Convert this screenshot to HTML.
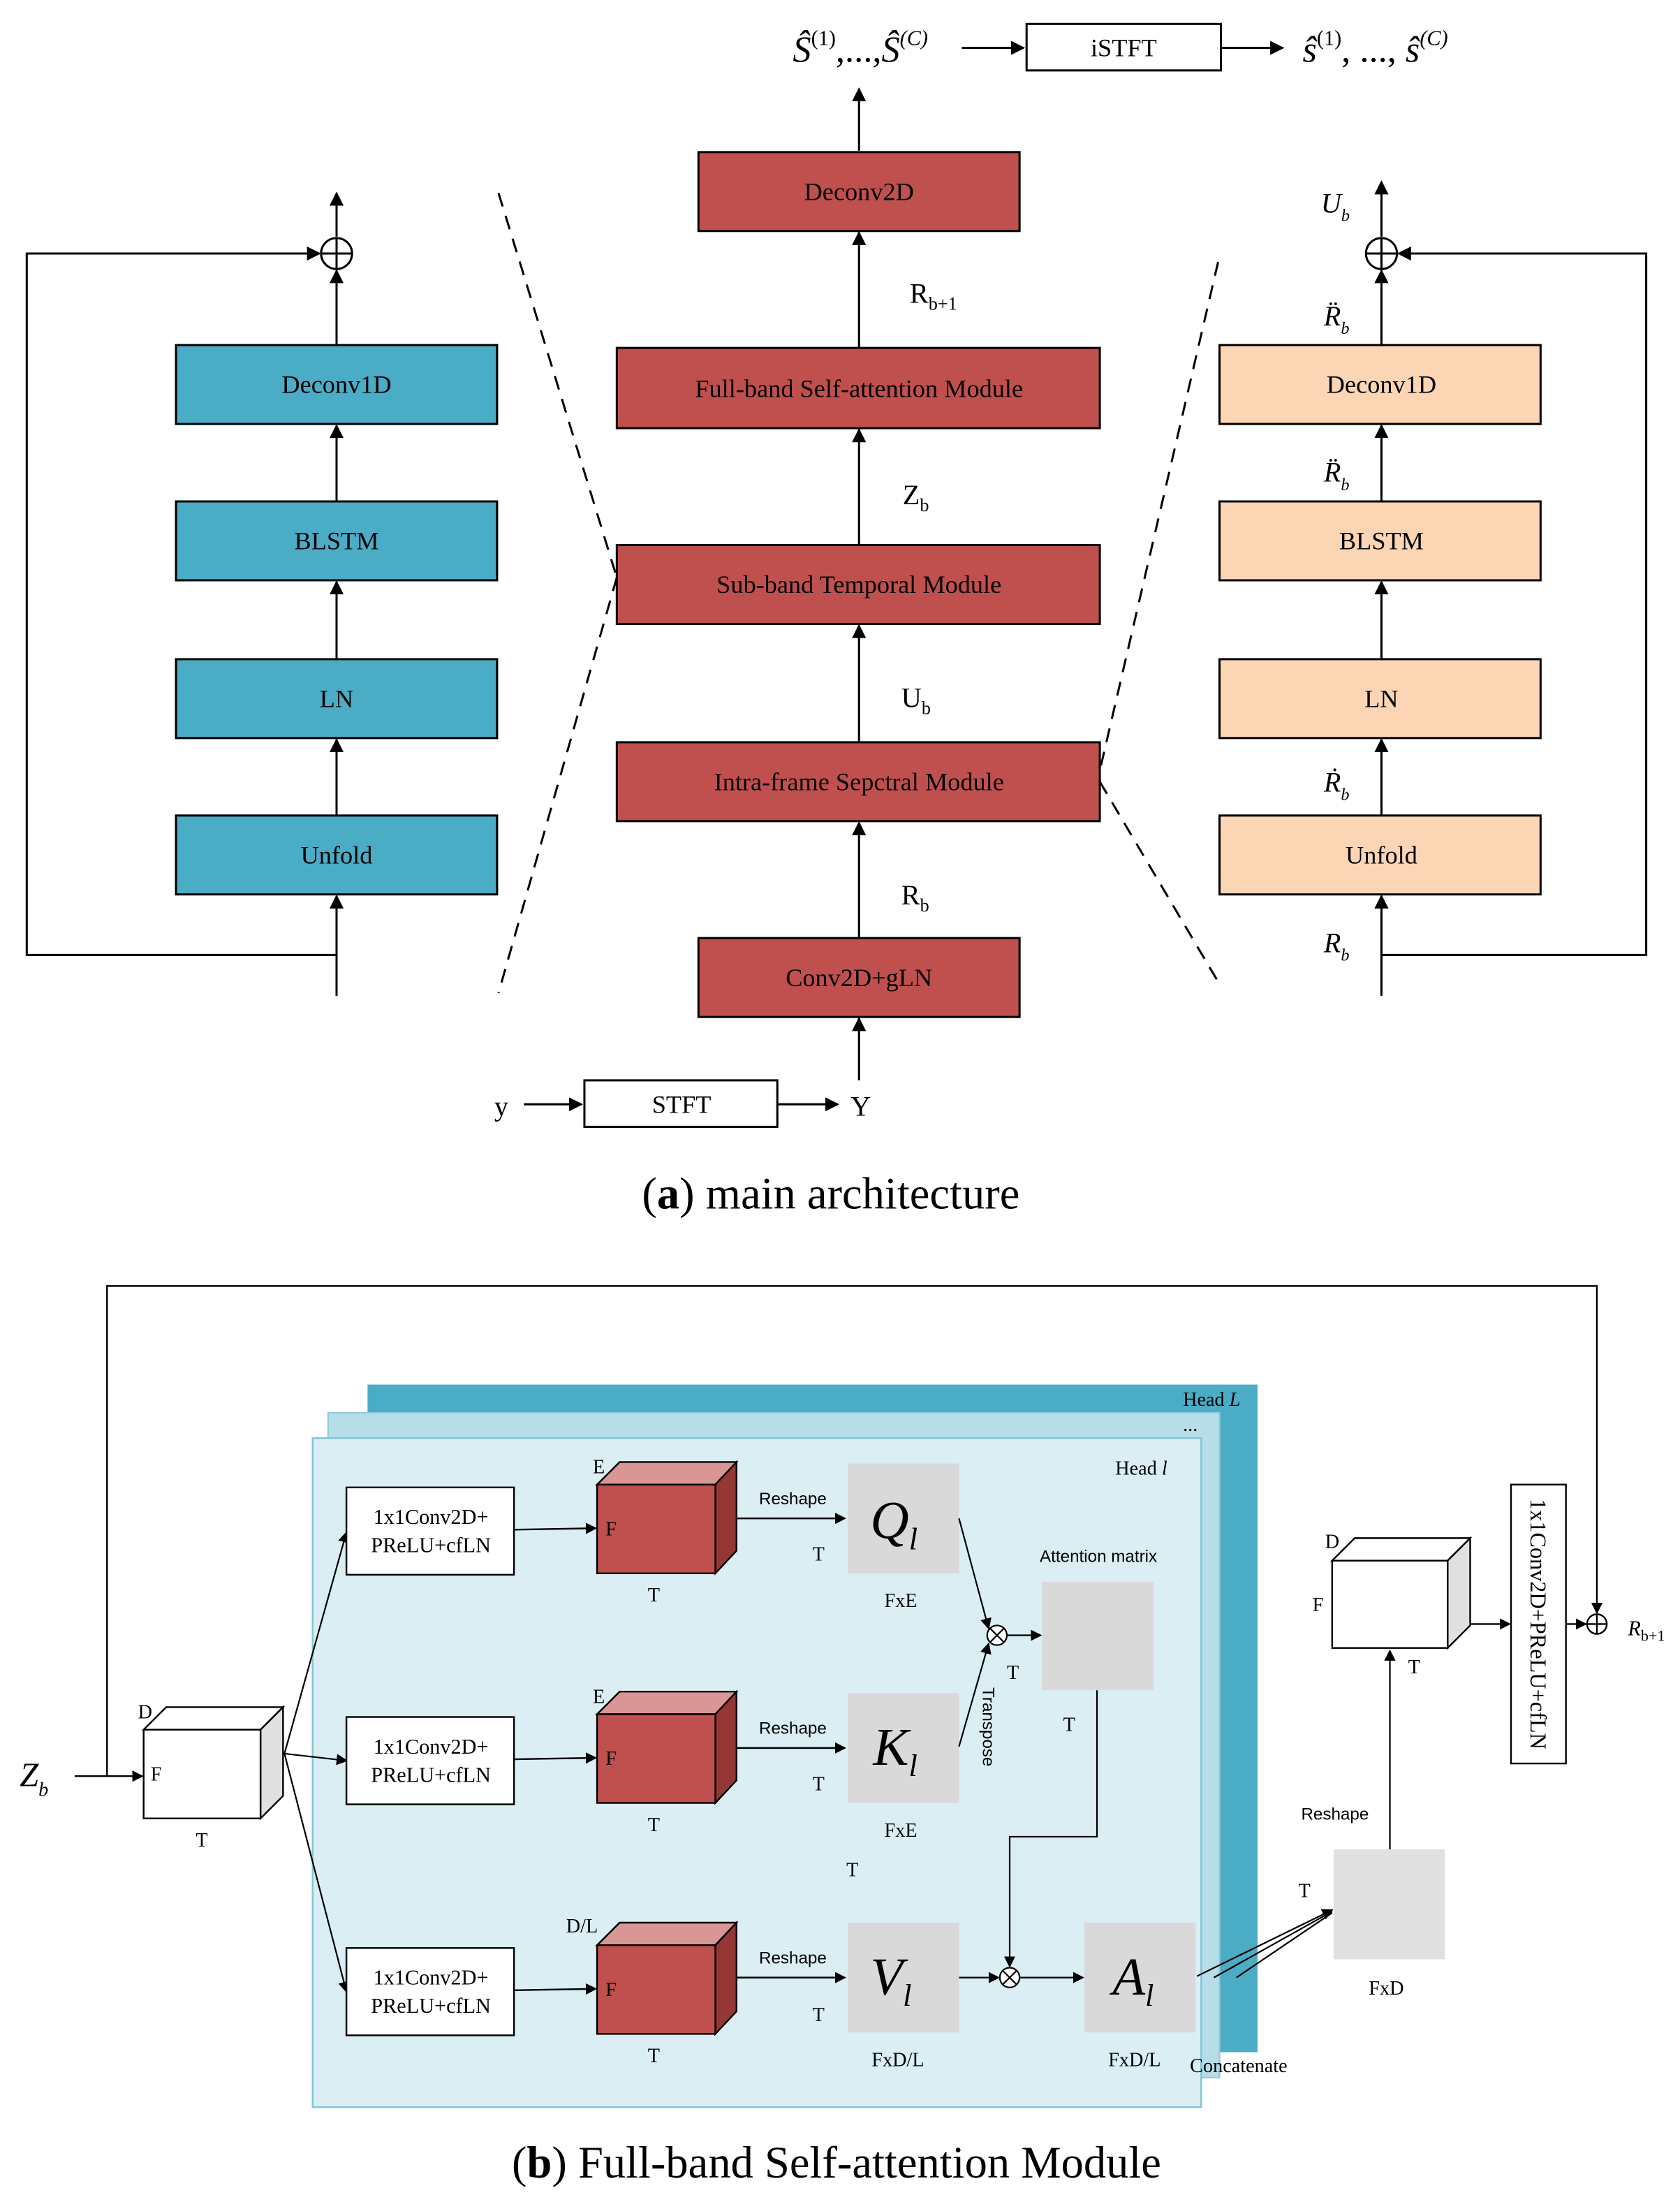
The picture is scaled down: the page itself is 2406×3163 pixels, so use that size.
<!DOCTYPE html>
<html><head><meta charset="utf-8"><style>
html,body{margin:0;padding:0;background:#fff;}
svg{display:block;}
text{font-family:"Liberation Serif",serif;fill:#000;}
</style></head><body>
<svg width="2406" height="3163" viewBox="0 0 1193 1568.3" preserveAspectRatio="none" xmlns="http://www.w3.org/2000/svg">
<defs>
<marker id="ah" markerWidth="10" markerHeight="10" refX="9" refY="5" orient="auto" markerUnits="userSpaceOnUse"><path d="M0,0 L10,5 L0,10 z" fill="#000"/></marker>
<marker id="as" markerWidth="8" markerHeight="8" refX="7" refY="4" orient="auto" markerUnits="userSpaceOnUse"><path d="M0,0 L8,4 L0,8 z" fill="#000"/></marker>
</defs>
<g stroke="#000" stroke-width="1.5" fill="none">
<line x1="683" y1="34" x2="727" y2="34" marker-end="url(#ah)"/>
<rect x="729" y="17" width="138" height="33" fill="#fff"/>
<line x1="867" y1="34" x2="911" y2="34" marker-end="url(#ah)"/>
<line x1="610" y1="107" x2="610" y2="63" marker-end="url(#ah)"/>
<rect x="496" y="108" width="228" height="56" fill="#c0504d"/>
<rect x="438" y="247" width="343" height="57" fill="#c0504d"/>
<rect x="438" y="387" width="343" height="56" fill="#c0504d"/>
<rect x="438" y="527" width="343" height="56" fill="#c0504d"/>
<rect x="496" y="666" width="228" height="56" fill="#c0504d"/>
<line x1="610" y1="247" x2="610" y2="165" marker-end="url(#ah)"/>
<line x1="610" y1="387" x2="610" y2="305" marker-end="url(#ah)"/>
<line x1="610" y1="527" x2="610" y2="444" marker-end="url(#ah)"/>
<line x1="610" y1="666" x2="610" y2="584" marker-end="url(#ah)"/>
<line x1="610" y1="767" x2="610" y2="723" marker-end="url(#ah)"/>
<line x1="372" y1="784" x2="413" y2="784" marker-end="url(#ah)"/>
<rect x="415" y="767" width="137" height="33" fill="#fff"/>
<line x1="552" y1="784" x2="595" y2="784" marker-end="url(#ah)"/>
<rect x="125" y="245" width="228" height="56" fill="#4bacc6"/>
<rect x="125" y="356" width="228" height="56" fill="#4bacc6"/>
<rect x="125" y="468" width="228" height="56" fill="#4bacc6"/>
<rect x="125" y="579" width="228" height="56" fill="#4bacc6"/>
<line x1="239" y1="707" x2="239" y2="636" marker-end="url(#ah)"/>
<line x1="239" y1="579" x2="239" y2="525" marker-end="url(#ah)"/>
<line x1="239" y1="468" x2="239" y2="413" marker-end="url(#ah)"/>
<line x1="239" y1="356" x2="239" y2="302" marker-end="url(#ah)"/>
<line x1="239" y1="245" x2="239" y2="192" marker-end="url(#ah)"/>
<line x1="239" y1="168" x2="239" y2="137" marker-end="url(#ah)"/>
<circle cx="239" cy="180" r="11" fill="#fff"/>
<line x1="228" y1="180" x2="250" y2="180"/><line x1="239" y1="169" x2="239" y2="191"/>
<polyline points="239,678 19,678 19,180 227,180" marker-end="url(#ah)"/>
<line x1="354" y1="137" x2="438" y2="410" stroke-dasharray="10,7"/>
<line x1="438" y1="410" x2="354" y2="705" stroke-dasharray="10,7"/>
<rect x="866" y="245" width="228" height="56" fill="#fcd5b5"/>
<rect x="866" y="356" width="228" height="56" fill="#fcd5b5"/>
<rect x="866" y="468" width="228" height="56" fill="#fcd5b5"/>
<rect x="866" y="579" width="228" height="56" fill="#fcd5b5"/>
<line x1="981" y1="707" x2="981" y2="636" marker-end="url(#ah)"/>
<line x1="981" y1="579" x2="981" y2="525" marker-end="url(#ah)"/>
<line x1="981" y1="468" x2="981" y2="413" marker-end="url(#ah)"/>
<line x1="981" y1="356" x2="981" y2="302" marker-end="url(#ah)"/>
<line x1="981" y1="245" x2="981" y2="192" marker-end="url(#ah)"/>
<line x1="981" y1="168" x2="981" y2="129" marker-end="url(#ah)"/>
<circle cx="981" cy="180" r="11" fill="#fff"/>
<line x1="970" y1="180" x2="992" y2="180"/><line x1="981" y1="169" x2="981" y2="191"/>
<polyline points="981,678 1169,678 1169,180 993,180" marker-end="url(#ah)"/>
<line x1="865" y1="186" x2="781" y2="547" stroke-dasharray="10,7"/>
<line x1="781" y1="555" x2="865" y2="697" stroke-dasharray="10,7"/>

<polyline points="76,1261 76,913 1134,913 1134,1145" stroke-width="1.2" marker-end="url(#as)"/>
<rect x="261" y="983" width="632" height="474" fill="#4bacc6" stroke="none"/>
<rect x="233" y="1003" width="633" height="472" fill="#b7dde8" stroke="#8fcadb" stroke-width="1"/>
<rect x="222" y="1021" width="631" height="475" fill="#daeef3" stroke="#7fc5d8" stroke-width="1.2"/>
<line x1="53" y1="1261" x2="101" y2="1261" stroke-width="1.2" marker-end="url(#as)"/>
<polygon points="102,1228 118,1212 201,1212 185,1228" fill="#fff" stroke-width="1.2"/>
<polygon points="185,1228 201,1212 201,1275 185,1291" fill="#e0e0e0" stroke-width="1.2"/>
<rect x="102" y="1228" width="83" height="63" fill="#fff" stroke-width="1.2"/>
<line x1="202" y1="1245" x2="246" y2="1088" stroke-width="1.1" marker-end="url(#as)"/>
<line x1="202" y1="1245" x2="246" y2="1250" stroke-width="1.1" marker-end="url(#as)"/>
<line x1="202" y1="1245" x2="246" y2="1414" stroke-width="1.1" marker-end="url(#as)"/>
<rect x="246" y="1056" width="119" height="62" fill="#fff" stroke-width="1.2"/>
<rect x="246" y="1219" width="119" height="62" fill="#fff" stroke-width="1.2"/>
<rect x="246" y="1383" width="119" height="62" fill="#fff" stroke-width="1.2"/>
<g stroke-width="1.2">
<line x1="365" y1="1086" x2="423" y2="1085" marker-end="url(#as)"/>
<line x1="365" y1="1249" x2="423" y2="1248" marker-end="url(#as)"/>
<line x1="365" y1="1413" x2="423" y2="1412" marker-end="url(#as)"/>
</g>
<g stroke-width="1.2">
<polygon points="424,1054 440,1038 523,1038 508,1054" fill="#d99694"/>
<polygon points="508,1054 523,1038 523,1101 508,1117" fill="#953735"/>
<rect x="424" y="1054" width="84" height="63" fill="#c0504d"/>
<polygon points="424,1217 440,1201 523,1201 508,1217" fill="#d99694"/>
<polygon points="508,1217 523,1201 523,1264 508,1280" fill="#953735"/>
<rect x="424" y="1217" width="84" height="63" fill="#c0504d"/>
<polygon points="424,1381 440,1365 523,1365 508,1381" fill="#d99694"/>
<polygon points="508,1381 523,1365 523,1428 508,1444" fill="#953735"/>
<rect x="424" y="1381" width="84" height="63" fill="#c0504d"/>
<line x1="523" y1="1078" x2="600" y2="1078" marker-end="url(#as)"/>
<line x1="523" y1="1241" x2="600" y2="1241" marker-end="url(#as)"/>
<line x1="523" y1="1404" x2="600" y2="1404" marker-end="url(#as)"/>
</g>
<g stroke="none" fill="#d9d9d9">
<rect x="602" y="1039" width="79" height="78"/>
<rect x="602" y="1202" width="79" height="78"/>
<rect x="602" y="1365" width="79" height="78"/>
<rect x="740" y="1123" width="79" height="77"/>
<rect x="770" y="1365" width="79" height="78"/>
<rect x="947" y="1313" width="79" height="78" fill="#e0e0e0"/>
</g>
<g stroke-width="1.1">
<line x1="681" y1="1078" x2="702" y2="1156" marker-end="url(#as)"/>
<line x1="681" y1="1240" x2="702" y2="1167" marker-end="url(#as)"/>
<circle cx="708" cy="1161" r="7" fill="#fff"/>
<line x1="703" y1="1156" x2="713" y2="1166"/><line x1="713" y1="1156" x2="703" y2="1166"/>
<line x1="715" y1="1161" x2="739" y2="1161" marker-end="url(#as)"/>
<polyline points="779,1200 779,1304 717,1304 717,1396" marker-end="url(#as)"/>
<line x1="681" y1="1404" x2="709" y2="1404" marker-end="url(#as)"/>
<circle cx="717" cy="1404" r="7" fill="#fff"/>
<line x1="712" y1="1399" x2="722" y2="1409"/><line x1="722" y1="1399" x2="712" y2="1409"/>
<line x1="724" y1="1404" x2="769" y2="1404" marker-end="url(#as)"/>
<line x1="850" y1="1403" x2="946" y2="1356" marker-end="url(#as)"/>
<line x1="862" y1="1404" x2="946" y2="1357"/>
<line x1="878" y1="1404" x2="946" y2="1358"/>
<line x1="987" y1="1313" x2="987" y2="1172" marker-end="url(#as)"/>
</g>
<g stroke-width="1.2">
<polygon points="946,1108 962,1092 1044,1092 1028,1108" fill="#fff"/>
<polygon points="1028,1108 1044,1092 1044,1154 1028,1170" fill="#e0e0e0"/>
<rect x="946" y="1108" width="82" height="62" fill="#fff"/>
<line x1="1044" y1="1153" x2="1072" y2="1153" marker-end="url(#as)"/>
<rect x="1073" y="1054" width="39" height="198" fill="#fff"/>
<line x1="1112" y1="1153" x2="1126" y2="1153" marker-end="url(#as)"/>
<circle cx="1134" cy="1153" r="7" fill="#fff"/>
<line x1="1127" y1="1153" x2="1141" y2="1153"/><line x1="1134" y1="1146" x2="1134" y2="1160"/>
</g>
</g>

<g font-size="26" font-style="italic">
<text x="563" y="44">Ŝ<tspan font-size="15" dy="-12" font-style="normal">(1)</tspan><tspan dy="12" font-style="normal">,...,</tspan>Ŝ<tspan font-size="15" dy="-12">(C)</tspan></text>
<text x="925" y="44">ŝ<tspan font-size="15" dy="-12" font-style="normal">(1)</tspan><tspan dy="12" font-style="normal">, ..., </tspan>ŝ<tspan font-size="15" dy="-12">(C)</tspan></text>
</g>
<g font-size="18" text-anchor="middle">
<text x="798" y="40">iSTFT</text>
<text x="610" y="142">Deconv2D</text>
<text x="610" y="282">Full-band Self-attention Module</text>
<text x="610" y="421">Sub-band Temporal Module</text>
<text x="610" y="561">Intra-frame Sepctral Module</text>
<text x="610" y="700">Conv2D+gLN</text>
<text x="484" y="790">STFT</text>
<text x="239" y="279">Deconv1D</text>
<text x="239" y="390">BLSTM</text>
<text x="239" y="502">LN</text>
<text x="239" y="613">Unfold</text>
<text x="981" y="279">Deconv1D</text>
<text x="981" y="390">BLSTM</text>
<text x="981" y="502">LN</text>
<text x="981" y="613">Unfold</text>
</g>
<g font-size="20">
<text x="646" y="215">R<tspan font-size="13" dy="5">b+1</tspan></text>
<text x="641" y="358">Z<tspan font-size="13" dy="5">b</tspan></text>
<text x="640" y="502">U<tspan font-size="13" dy="5">b</tspan></text>
<text x="640" y="642">R<tspan font-size="13" dy="5">b</tspan></text>
<text x="351" y="792">y</text>
<text x="604" y="792">Y</text>
</g>
<g font-size="20" font-style="italic">
<text x="938" y="151">U<tspan font-size="12" dy="6">b</tspan></text>
<text x="940" y="231">R̈<tspan font-size="12" dy="6">b</tspan></text>
<text x="940" y="342">R̈<tspan font-size="12" dy="6">b</tspan></text>
<text x="940" y="562">Ṙ<tspan font-size="12" dy="6">b</tspan></text>
<text x="940" y="676">R<tspan font-size="12" dy="6">b</tspan></text>
</g>
<text x="590" y="858" font-size="32" text-anchor="middle">(<tspan font-weight="bold">a</tspan>) main architecture</text>

<text x="14" y="1268" font-size="24" font-style="italic">Z<tspan font-size="14" dy="7">b</tspan></text>
<g font-size="14">
<text x="98" y="1220">D</text><text x="107" y="1264">F</text><text x="139" y="1311">T</text>
<text x="840" y="998">Head <tspan font-style="italic">L</tspan></text>
<text x="840" y="1016">...</text>
<text x="792" y="1047">Head <tspan font-style="italic">l</tspan></text>
<text x="421" y="1046">E</text><text x="430" y="1090">F</text><text x="460" y="1137">T</text>
<text x="421" y="1209">E</text><text x="430" y="1253">F</text><text x="460" y="1300">T</text>
<text x="402" y="1372">D/L</text><text x="430" y="1417">F</text><text x="460" y="1464">T</text>
<text x="577" y="1108">T</text><text x="577" y="1271">T</text><text x="577" y="1435">T</text>
<text x="715" y="1192">T</text><text x="755" y="1229">T</text><text x="601" y="1332">T</text>
<text x="628" y="1141">FxE</text><text x="628" y="1304">FxE</text><text x="619" y="1467">FxD/L</text>
<text x="787" y="1467">FxD/L</text>
<text x="845" y="1471">Concatenate</text>
<text x="972" y="1416">FxD</text>
<text x="922" y="1347">T</text>
<text x="941" y="1099">D</text><text x="932" y="1144">F</text><text x="1000" y="1188">T</text>
</g>
<g font-size="15" text-anchor="middle">
<text x="306" y="1082">1x1Conv2D+</text><text x="306" y="1102">PReLU+cfLN</text>
<text x="306" y="1245">1x1Conv2D+</text><text x="306" y="1265">PReLU+cfLN</text>
<text x="306" y="1409">1x1Conv2D+</text><text x="306" y="1429">PReLU+cfLN</text>
</g>
<g font-size="12" text-anchor="middle" style="font-family:'Liberation Sans',sans-serif">
<text x="563" y="1068" style="font-family:'Liberation Sans',sans-serif">Reshape</text>
<text x="563" y="1231" style="font-family:'Liberation Sans',sans-serif">Reshape</text>
<text x="563" y="1394" style="font-family:'Liberation Sans',sans-serif">Reshape</text>
<text x="780" y="1109" style="font-family:'Liberation Sans',sans-serif">Attention matrix</text>
<text x="948" y="1292" style="font-family:'Liberation Sans',sans-serif">Reshape</text>
<text transform="translate(698,1226) rotate(90)" style="font-family:'Liberation Sans',sans-serif">Transpose</text>
</g>
<g font-size="38" font-style="italic">
<text x="618" y="1092">Q<tspan font-size="22" dy="8">l</tspan></text>
<text x="620" y="1253">K<tspan font-size="22" dy="8">l</tspan></text>
<text x="618" y="1416">V<tspan font-size="22" dy="8">l</tspan></text>
<text x="790" y="1416">A<tspan font-size="22" dy="8">l</tspan></text>
</g>
<text transform="translate(1087,1153) rotate(90)" font-size="16" text-anchor="middle">1x1Conv2D+PReLU+cfLN</text>
<text x="1156" y="1161" font-size="15" font-style="italic">R<tspan font-size="11" dy="4" font-style="normal">b+1</tspan></text>
<text x="594" y="1546" font-size="32" text-anchor="middle">(<tspan font-weight="bold">b</tspan>) Full-band Self-attention Module</text>
</svg>
</body></html>
